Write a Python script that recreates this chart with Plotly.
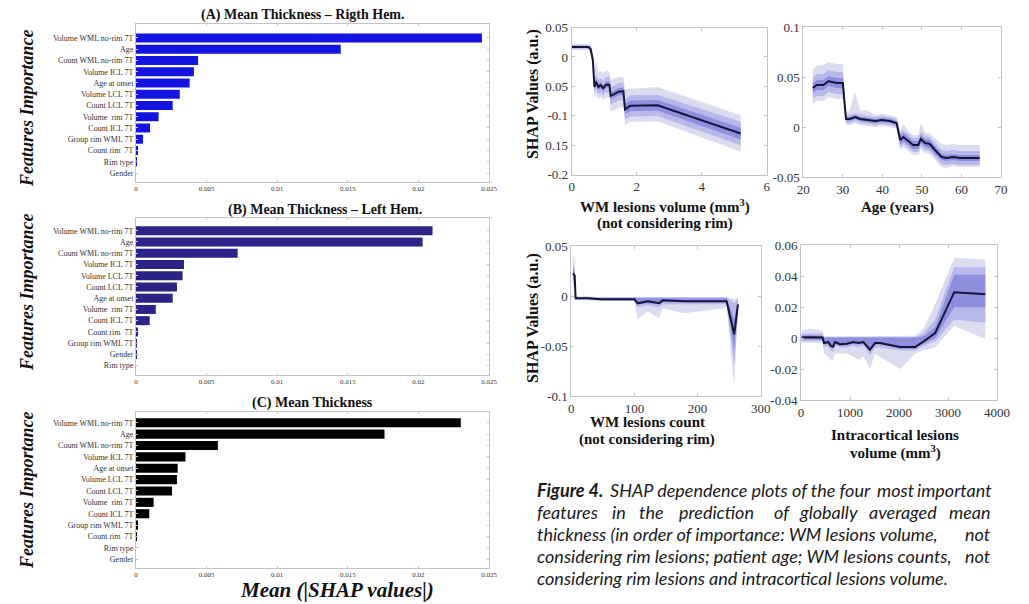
import plotly.graph_objects as go

# ---------------- DATA ----------------
feat_A = ["Volume WML no-rim 7T", "Age", "Count WML no-rim 7T", "Volume ICL 7T", "Age at onset",
          "Volume LCL 7T", "Count LCL 7T", "Volume  rim 7T", "Count ICL 7T", "Group rim WML 7T",
          "Count rim  7T", "Rim type", "Gender"]
val_A = [0.0245, 0.0145, 0.0044, 0.0041, 0.0038, 0.0031, 0.0026, 0.0016, 0.0010, 0.0005, 0.0001, 0.00003, 0.0]

feat_B = ["Volume WML no-rim 7T", "Age", "Count WML no-rim 7T", "Volume ICL 7T", "Volume LCL 7T",
          "Count LCL 7T", "Age at onset", "Volume  rim 7T", "Count ICL 7T", "Count rim  7T",
          "Group rim WML 7T", "Gender", "Rim type"]
val_B = [0.0210, 0.0203, 0.0072, 0.0034, 0.0033, 0.0029, 0.0026, 0.0014, 0.00097, 0.00012, 0.00003, 0.00001, 0.0]

feat_C = ["Volume WML no-rim 7T", "Age", "Count WML no-rim 7T", "Volume ICL 7T", "Age at onset",
          "Volume LCL 7T", "Count LCL 7T", "Volume  rim 7T", "Count ICL 7T", "Group rim WML 7T",
          "Count rim  7T", "Rim type", "Gender"]
val_C = [0.0230, 0.0176, 0.0058, 0.0035, 0.00295, 0.0029, 0.00255, 0.00125, 0.00094, 0.00012, 0.00007, 0.0, 0.0]

bar_ticks = [0, 0.005, 0.01, 0.015, 0.02, 0.025]
bar_ticktext = ["0", "0.005", "0.01", "0.015", "0.02", "0.025"]

# SHAP dependence: WM lesions volume
vol_x = [0, 0.3, 0.51, 0.58, 0.65, 0.70, 0.75, 0.82, 0.89, 0.97, 1.06, 1.16, 1.20, 1.28, 1.44, 1.59, 1.64, 1.80, 2.64, 5.20]
vol_shap = [0.017, 0.017, 0.017, 0.014, -0.005, -0.051, -0.042, -0.051, -0.048, -0.053, -0.047, -0.047,
            -0.066, -0.064, -0.059, -0.058, -0.089, -0.083, -0.082, -0.130]
vol_in = [0.002, 0.002, 0.002, 0.003, 0.004, 0.005, 0.005, 0.005, 0.005, 0.005, 0.005, 0.005,
          0.006, 0.006, 0.006, 0.006, 0.008, 0.009, 0.009, 0.010]
vol_mid = [0.003, 0.003, 0.003, 0.005, 0.008, 0.011, 0.012, 0.012, 0.012, 0.012, 0.013, 0.013,
           0.014, 0.014, 0.015, 0.015, 0.017, 0.018, 0.018, 0.020]
vol_out_up = [0.005, 0.005, 0.005, 0.008, 0.015, 0.030, 0.035, 0.025, 0.024, 0.026, 0.024, 0.022,
              0.027, 0.027, 0.025, 0.024, 0.034, 0.029, 0.031, 0.031]
vol_out_dn = [0.005, 0.005, 0.005, 0.008, 0.015, 0.020, 0.022, 0.020, 0.020, 0.020, 0.022, 0.022,
              0.026, 0.027, 0.027, 0.027, 0.027, 0.027, 0.027, 0.031]

# SHAP dependence: Age
age_x = [22.4, 23.4, 25.1, 26.4, 27.2, 28.5, 30.0, 30.8, 31.8, 33.1, 34.4, 36.0, 38.2, 39.8, 41.9, 43.6,
         44.5, 45.3, 46.6, 47.8, 49.1, 49.7, 50.8, 52.0, 53.3, 55.0, 56.2, 57.9, 59.6, 64.6]
age_shap = [0.039, 0.042, 0.042, 0.046, 0.045, 0.044, 0.044, 0.008, 0.008, 0.010, 0.008, 0.007, 0.006, 0.007,
            0.006, 0.004, -0.013, -0.010, -0.014, -0.018, -0.018, -0.012, -0.016, -0.017, -0.023, -0.030,
            -0.031, -0.030, -0.031, -0.031]
age_in = [0.005, 0.005, 0.005, 0.005, 0.005, 0.005, 0.005, 0.002, 0.002, 0.002, 0.002, 0.002, 0.002, 0.002,
          0.002, 0.002, 0.004, 0.004, 0.004, 0.004, 0.004, 0.004, 0.004, 0.004, 0.004, 0.003, 0.003, 0.003,
          0.003, 0.003]
age_mid = [0.011, 0.011, 0.011, 0.011, 0.011, 0.011, 0.011, 0.004, 0.004, 0.004, 0.004, 0.004, 0.004, 0.004,
           0.004, 0.004, 0.007, 0.007, 0.007, 0.007, 0.007, 0.007, 0.007, 0.007, 0.007, 0.007, 0.007, 0.007,
           0.007, 0.007]
age_out_up = [0.019, 0.019, 0.020, 0.019, 0.019, 0.019, 0.019, 0.006, 0.010, 0.025, 0.008, 0.010, 0.006, 0.006,
              0.006, 0.006, 0.010, 0.013, 0.010, 0.010, 0.010, 0.016, 0.010, 0.011, 0.012, 0.013, 0.013, 0.013,
              0.013, 0.013]
age_out_dn = [0.016, 0.016, 0.016, 0.016, 0.016, 0.016, 0.016, 0.006, 0.006, 0.006, 0.006, 0.006, 0.006, 0.006,
              0.006, 0.006, 0.010, 0.010, 0.010, 0.010, 0.010, 0.010, 0.010, 0.010, 0.010, 0.010, 0.010, 0.009,
              0.009, 0.009]

# SHAP dependence: WM lesions count (absolute band limits)
cnt_x = [2.6, 4.2, 5.3, 6.8, 26, 47, 74, 100, 105, 121, 139, 145, 179, 242, 246, 258, 264]
cnt_shap = [0.023, 0.021, 0.021, -0.002, -0.002, -0.003, -0.003, -0.003, -0.007, -0.005, -0.007, -0.004,
            -0.005, -0.005, -0.005, -0.038, -0.008]
cnt_in_hi = [0.027, 0.025, 0.025, -0.001, -0.001, -0.002, -0.002, -0.002, -0.002, -0.002, -0.002, -0.002,
             -0.002, -0.002, -0.002, -0.023, -0.004]
cnt_in_lo = [0.019, 0.017, 0.017, -0.003, -0.003, -0.004, -0.004, -0.004, -0.008, -0.007, -0.008, -0.006,
             -0.006, -0.006, -0.006, -0.053, -0.012]
cnt_mid_hi = [0.032, 0.030, 0.028, -0.001, -0.001, -0.001, -0.001, -0.001, -0.001, -0.001, -0.001, -0.001,
              -0.001, -0.001, -0.001, -0.007, -0.002]
cnt_mid_lo = [0.014, 0.013, 0.013, -0.003, -0.003, -0.004, -0.004, -0.004, -0.011, -0.009, -0.011, -0.008,
              -0.008, -0.008, -0.008, -0.070, -0.015]
cnt_out_hi = [0.043, 0.040, 0.035, 0.000, 0.000, -0.001, -0.001, -0.001, -0.001, -0.001, -0.001, -0.001,
              -0.001, -0.001, -0.001, -0.003, -0.002]
cnt_out_lo = [0.010, 0.010, 0.010, -0.004, -0.004, -0.005, -0.005, -0.005, -0.023, -0.015, -0.022, -0.012,
              -0.017, -0.012, -0.010, -0.090, -0.016]

# SHAP dependence: Intracortical lesions volume (absolute band limits)
icl_x = [12, 182, 441, 468, 557, 605, 659, 694, 796, 932, 1068, 1170, 1273, 1409, 1511, 1613, 2023, 2329,
         2500, 2738, 3127, 3761]
icl_shap = [0.0004, 0.0006, 0.0004, -0.0032, -0.0026, -0.0050, -0.0054, -0.0026, -0.0039, -0.0037, -0.0026,
            -0.0032, -0.0026, -0.0075, -0.0032, -0.0032, -0.0058, -0.0058, -0.0022, 0.0032, 0.0297, 0.0284]
icl_in_hi = [0.0015, 0.0018, 0.0015, 0.0004, 0.0004, 0.0004, 0.0004, 0.0004, 0.0004, 0.0004, 0.0004, 0.0004,
             0.0004, 0.0004, 0.0004, 0.0004, 0.0004, 0.0004, 0.0010, 0.0070, 0.0410, 0.0410]
icl_in_lo = [-0.0010, -0.0008, -0.0010, -0.0042, -0.0036, -0.0060, -0.0064, -0.0036, -0.0049, -0.0047, -0.0036,
             -0.0042, -0.0036, -0.0085, -0.0042, -0.0042, -0.0068, -0.0068, -0.0035, 0.0000, 0.0200, 0.0200]
icl_mid_hi = [0.0030, 0.0030, 0.0030, 0.0008, 0.0008, 0.0008, 0.0008, 0.0008, 0.0008, 0.0008, 0.0008, 0.0008,
              0.0008, 0.0008, 0.0008, 0.0008, 0.0008, 0.0008, 0.0030, 0.0120, 0.0460, 0.0460]
icl_mid_lo = [-0.0020, -0.0020, -0.0020, -0.0060, -0.0050, -0.0080, -0.0090, -0.0050, -0.0060, -0.0060, -0.0050,
              -0.0060, -0.0050, -0.0110, -0.0060, -0.0060, -0.0080, -0.0080, -0.0050, -0.0020, 0.0120, 0.0100]
icl_out_hi = [0.0050, 0.0060, 0.0050, 0.0012, 0.0012, 0.0012, 0.0012, 0.0012, 0.0012, 0.0012, 0.0012, 0.0012,
              0.0012, 0.0012, 0.0012, 0.0012, 0.0012, 0.0015, 0.0060, 0.0220, 0.0520, 0.0510]
icl_out_lo = [-0.0030, -0.0030, -0.0030, -0.0100, -0.0120, -0.0140, -0.0140, -0.0100, -0.0100, -0.0100, -0.0120,
              -0.0140, -0.0120, -0.0200, -0.0100, -0.0120, -0.0200, -0.0100, -0.0080, -0.0060, 0.0080, -0.0005]

# ---------------- LAYOUT HELPERS ----------------
# The page body adds an 8 px margin; the figure is sized so it fills the window exactly,
# and positions below are given in window pixels.
W, H = 1029, 604
OFF = 8
FW, FH = W - OFF, H - OFF
def fx(p): return (p - OFF) / FW
def fy(p): return 1 - (p - OFF) / FH

SERIF = "Liberation Serif"
FRAME = "#C4C4C4"
C_OUT, C_MID, C_IN = "#DCDCF0", "#B8B8EA", "#8E8EDF"
C_LINE = "#15153A"

fig = go.Figure()

# ---------- bar charts ----------
bar_specs = [
    (1, feat_A, val_A, "#1414E2", (136, 489, 24, 182), [12.8, -1.24]),
    (2, feat_B, val_B, "#2B2386", (136, 489, 218, 375), [12.83, -1.13]),
    (3, feat_C, val_C, "#000000", (136, 489, 412, 568), [12.77, -0.94]),
]
layout = {}
for i, feats, vals, col, (x0, x1, y0, y1), yr in bar_specs:
    xa = "x" if i == 1 else f"x{i}"
    ya = "y" if i == 1 else f"y{i}"
    fig.add_trace(go.Bar(x=vals, y=feats, orientation="h", marker=dict(color=col, line=dict(width=0)),
                         width=0.8, xaxis=xa, yaxis=ya, showlegend=False))
    kx = "xaxis" if i == 1 else f"xaxis{i}"
    ky = "yaxis" if i == 1 else f"yaxis{i}"
    layout[kx] = dict(domain=[fx(x0), fx(x1)], anchor=ya, range=[0, 0.025], tickvals=bar_ticks,
                      ticktext=bar_ticktext, tickfont=dict(family=SERIF, size=7, color="#333"),
                      showgrid=False, zeroline=False, showline=True, mirror="ticks", linecolor=FRAME,
                      ticks="inside", ticklen=2, tickcolor=FRAME, automargin=False)
    layout[ky] = dict(domain=[fy(y1), fy(y0)], anchor=xa, type="category", categoryarray=feats,
                      range=yr, tickfont=dict(family=SERIF, size=8, color="#333"),
                      showgrid=False, zeroline=False, showline=True, mirror="ticks", linecolor=FRAME,
                      ticks="inside", ticklen=2, tickcolor=FRAME, automargin=False)

# ---------- SHAP dependence panels ----------
def band(x, hi, lo, color, xa, ya):
    fig.add_trace(go.Scatter(x=list(x) + list(x)[::-1], y=list(hi) + list(lo)[::-1], fill="toself",
                             fillcolor=color, line=dict(width=0), mode="lines", hoverinfo="skip",
                             xaxis=xa, yaxis=ya, showlegend=False))

def shap_panel(i, x, y, levels, dom, xr, xt, yr, yt, yttext):
    xa, ya = f"x{i}", f"y{i}"
    for (hi, lo), colr in zip(levels, [C_OUT, C_MID, C_IN]):
        band(x, hi, lo, colr, xa, ya)
    fig.add_trace(go.Scatter(x=x, y=y, mode="lines", line=dict(color=C_LINE, width=2),
                             xaxis=xa, yaxis=ya, showlegend=False))
    x0, x1, y0, y1 = dom
    common = dict(showgrid=False, zeroline=False, showline=True, mirror="ticks", linecolor=FRAME,
                  ticks="inside", ticklen=3, tickcolor=FRAME, automargin=False,
                  tickfont=dict(family=SERIF, size=13, color="#333"))
    layout[f"xaxis{i}"] = dict(domain=[fx(x0), fx(x1)], anchor=ya, range=xr, tickvals=xt, **common)
    layout[f"yaxis{i}"] = dict(domain=[fy(y1), fy(y0)], anchor=xa, range=yr, tickvals=yt,
                               ticktext=yttext, **common)

vol_lv = [
    ([a + b for a, b in zip(vol_shap, vol_out_up)], [a - b for a, b in zip(vol_shap, vol_out_dn)]),
    ([a + b for a, b in zip(vol_shap, vol_mid)], [a - b for a, b in zip(vol_shap, vol_mid)]),
    ([a + b for a, b in zip(vol_shap, vol_in)], [a - b for a, b in zip(vol_shap, vol_in)]),
]
age_lv = [
    ([a + b for a, b in zip(age_shap, age_out_up)], [a - b for a, b in zip(age_shap, age_out_dn)]),
    ([a + b for a, b in zip(age_shap, age_mid)], [a - b for a, b in zip(age_shap, age_mid)]),
    ([a + b for a, b in zip(age_shap, age_in)], [a - b for a, b in zip(age_shap, age_in)]),
]
cnt_lv = [(cnt_out_hi, cnt_out_lo), (cnt_mid_hi, cnt_mid_lo), (cnt_in_hi, cnt_in_lo)]
icl_lv = [(icl_out_hi, icl_out_lo), (icl_mid_hi, icl_mid_lo), (icl_in_hi, icl_in_lo)]

shap_panel(4, vol_x, vol_shap, vol_lv, (571.7, 766.7, 27.5, 174.8), [0, 6], [0, 2, 4, 6],
           [-0.2, 0.05], [0.05, 0, -0.05, -0.1, -0.15, -0.2], ["0.05", "0", "0.05", "-0.1", "0.15", "-0.2"])
shap_panel(5, age_x, age_shap, age_lv, (803.3, 1001, 27, 177), [20, 70], [20, 30, 40, 50, 60, 70],
           [-0.05, 0.1], [0.1, 0.05, 0, -0.05], ["0.1", "0.05", "0", "-0.05"])
shap_panel(6, cnt_x, cnt_shap, cnt_lv, (571.3, 760.7, 246.3, 396.3), [0, 300], [0, 100, 200, 300],
           [-0.1, 0.05], [0.05, 0, -0.05, -0.1], ["0.05", "0", "-0.05", "-0.1"])
shap_panel(7, icl_x, icl_shap, icl_lv, (801, 997, 245.3, 400), [0, 4000], [0, 1000, 2000, 3000, 4000],
           [-0.04, 0.06], [0.06, 0.04, 0.02, 0, -0.02, -0.04], ["0.06", "0.04", "0.02", "0", "-0.02", "-0.04"])

# ---------- annotations ----------
ann = []
def txt(s, x, y, size, family=SERIF, color="#111", xanchor="center", angle=0):
    ann.append(dict(text=s, x=fx(x), y=fy(y), xref="paper", yref="paper", showarrow=False,
                    xanchor=xanchor, yanchor="middle", textangle=angle,
                    font=dict(family=family, size=size, color=color)))

txt("<b>(A) Mean Thickness – Rigth Hem.</b>", 303, 15, 14)
txt("<b>(B) Mean Thickness – Left Hem.</b>", 325, 210, 14)
txt("<b>(C) Mean Thickness</b>", 312, 403, 14)
for cy in (108, 292, 490):
    txt("<b><i>Features Importance</i></b>", 27, cy, 18, angle=-90)
txt("<b><i>Mean (|SHAP values|)</i></b>", 337, 590, 21)

txt("<b>SHAP Values (a.u.)</b>", 533, 94, 16, angle=-90)
txt("<b>SHAP Values (a.u.)</b>", 533, 318, 16, angle=-90)
txt("<b>WM lesions volume (mm<sup>3</sup>)</b>", 665, 206, 15)
txt("<b>(not considering rim)</b>", 665, 224, 15)
txt("<b>Age (years)</b>", 897, 208, 15)
txt("<b>WM lesions count</b>", 647, 422, 15)
txt("<b>(not considering rim)</b>", 647, 439, 15)
txt("<b>Intracortical lesions</b>", 895, 435, 15)
txt("<b>volume (mm<sup>3</sup>)</b>", 895, 452, 15)

# caption (justified lines placed in chunks)
CAP = "Lato"
CS = 18
CC = "#1a1a1a"
txt("<b><i>Figure 4.</i></b>", 535, 490, CS, CAP, CC, "left")
txt("<i>SHAP dependence plots of the four</i>", 608, 490, CS, CAP, CC, "left")
txt("<i>most</i>", 875, 490, CS, CAP, CC, "left")
txt("<i>important</i>", 994, 490, CS, CAP, CC, "right")
for w, xw in [("features", 535), ("in", 610), ("the", 637), ("prediction", 677), ("of", 772),
              ("globally", 797), ("averaged", 867)]:
    txt(f"<i>{w}</i>", xw, 512, CS, CAP, CC, "left")
txt("<i>mean</i>", 993, 512, CS, CAP, CC, "right")
txt("<i>thickness (in order of importance: WM lesions volume,</i>", 535, 534, CS, CAP, CC, "left")
txt("<i>not</i>", 993, 534, CS, CAP, CC, "right")
txt("<i>considering rim lesions; patient age; WM lesions counts,</i>", 535, 556, CS, CAP, CC, "left")
txt("<i>not</i>", 993, 556, CS, CAP, CC, "right")
txt("<i>considering rim lesions and intracortical lesions volume.</i>", 535, 578, CS, CAP, CC, "left")

fig.update_layout(width=FW, height=FH, margin=dict(l=0, r=0, t=0, b=0, autoexpand=False),
                  paper_bgcolor="white", plot_bgcolor="white", annotations=ann, bargap=0.2, **layout)
fig.write_html("out.html")
